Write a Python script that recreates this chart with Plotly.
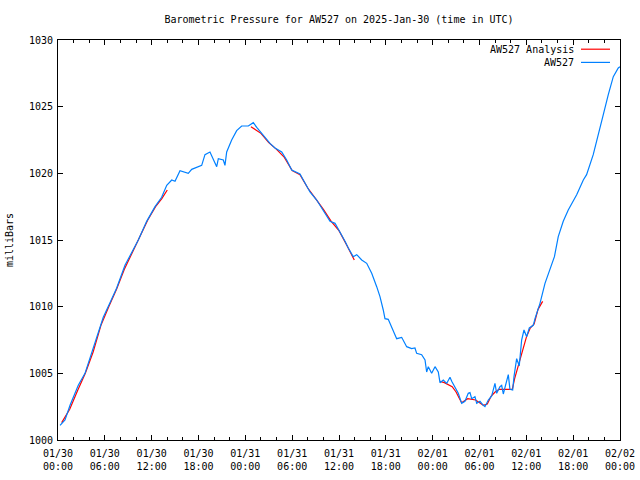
import pandas as pd
import plotly.graph_objects as go

START = pd.Timestamp("2025-01-30 00:00")

# AW527 observed pressure: hours since 2025-01-30 00:00 UTC, millibars
obs_hours = [0.26, 0.9, 1.54, 2.6, 3.46, 4.32, 4.96, 5.8, 6.66, 7.52, 8.58, 9.44, 10.29, 11.36,
             12.43, 13.28, 13.93, 14.57, 14.99, 15.63, 16.69, 17.13, 18.41, 18.83, 19.47, 20.33,
             20.54, 21.18, 21.39, 21.61, 22.25, 22.89, 23.53, 24.38, 25.02, 25.46, 26.1, 26.74,
             27.16, 27.8, 28.66, 29.3, 29.94, 31.0, 31.64, 32.28, 33.14, 33.99, 34.85, 35.49,
             36.13, 36.77, 37.19, 37.83, 38.27, 38.91, 39.55, 40.19, 40.83, 41.25, 41.67, 41.89,
             42.31, 42.95, 43.39, 44.03, 44.67, 45.31, 45.73, 45.95, 46.59, 47.02, 47.23, 47.44,
             47.87, 48.3, 48.72, 48.94, 49.36, 49.8, 50.22, 50.44, 50.86, 51.28, 51.72, 52.14,
             52.56, 52.78, 53.0, 53.42, 53.64, 54.06, 54.49, 54.7, 55.13, 55.56, 55.98, 56.2,
             56.62, 56.84, 57.05, 57.26, 57.69, 57.9, 58.25, 58.42, 58.76, 59.09, 59.4, 59.7,
             60.04, 60.38, 60.89, 61.11, 61.75, 62.39, 63.03, 63.6, 64.09, 64.73, 65.37, 66.45,
             67.3, 67.72, 68.57, 69.22, 69.86, 70.5, 71.14, 71.78, 72.0]
obs_mb = [1001.1, 1001.5, 1002.6, 1004.1, 1005.0, 1006.5, 1007.7, 1009.2, 1010.3, 1011.4, 1013.1,
          1014.1, 1015.0, 1016.4, 1017.5, 1018.2, 1019.1, 1019.5, 1019.4, 1020.2, 1020.0, 1020.3,
          1020.6, 1021.4, 1021.6, 1020.5, 1021.1, 1021.0, 1020.6, 1021.6, 1022.5, 1023.2, 1023.55,
          1023.55, 1023.8, 1023.45, 1023.0, 1022.5, 1022.25, 1021.9, 1021.6, 1021.0, 1020.25,
          1019.95, 1019.25, 1018.6, 1018.0, 1017.25, 1016.4, 1016.25, 1015.6, 1014.9, 1014.4,
          1013.75, 1013.9, 1013.5, 1013.25, 1012.5, 1011.5, 1010.75, 1009.75, 1009.1, 1009.05,
          1008.25, 1007.6, 1007.7, 1007.0, 1006.85, 1006.9, 1006.5, 1006.4, 1006.0, 1005.1,
          1005.5, 1005.0, 1005.5, 1005.1, 1004.3, 1004.5, 1004.25, 1004.7, 1004.4, 1003.9,
          1003.5, 1002.75, 1002.9, 1003.5, 1003.55, 1003.1, 1003.25, 1002.75, 1002.9, 1002.6,
          1002.5, 1003.0, 1003.3, 1004.25, 1003.5, 1004.0, 1004.1, 1003.45, 1003.9, 1004.9,
          1003.8, 1003.75, 1004.75, 1006.1, 1005.55, 1007.5, 1008.25, 1007.75, 1008.4, 1008.6,
          1009.1, 1010.25, 1011.75, 1012.9, 1013.75, 1015.25, 1016.4, 1017.25, 1018.4, 1019.5,
          1019.9, 1021.4, 1023.0, 1024.4, 1025.9, 1027.25, 1027.9, 1028.0]

# AW527 Analysis (three segments, gaps between)
ana_hours = [0.47, 1.5, 2.5, 3.5, 4.5, 5.5, 6.5, 7.5, 8.5, 9.5, 10.5, 11.5, 12.5, 13.3, 14.0,
             None,
             24.72, 26.0, 27.0, 28.0, 29.0, 30.0, 31.0, 32.0, 33.0, 34.0, 35.0, 36.0, 37.0, 37.96,
             None,
             48.94, 49.5, 50.5, 51.0, 51.7, 52.5, 53.5, 54.5, 55.0, 55.5, 56.0, 56.5, 57.5, 58.2,
             58.5, 59.0, 59.5, 60.0, 60.5, 61.0, 61.5, 62.09]
ana_mb = [1001.3, 1002.3, 1003.7, 1005.0, 1006.6, 1008.6, 1010.0, 1011.3, 1012.8, 1014.0, 1015.2,
          1016.5, 1017.5, 1018.1, 1018.75,
          None,
          1023.5, 1023.0, 1022.3, 1021.8, 1021.2, 1020.2, 1019.9, 1018.9, 1018.1, 1017.3, 1016.4,
          1015.7, 1014.6, 1013.5,
          None,
          1004.4, 1004.3, 1004.0, 1003.6, 1002.8, 1003.1, 1003.0, 1002.6, 1002.7, 1003.3, 1003.6,
          1003.8, 1003.8, 1003.8, 1004.6, 1005.6, 1006.8, 1007.7, 1008.4, 1008.7, 1009.8, 1010.4]

tick_hours = [0, 6, 12, 18, 24, 30, 36, 42, 48, 54, 60, 66, 72]
tick_labels = ["01/30<br>00:00", "01/30<br>06:00", "01/30<br>12:00", "01/30<br>18:00",
               "01/31<br>00:00", "01/31<br>06:00", "01/31<br>12:00", "01/31<br>18:00",
               "02/01<br>00:00", "02/01<br>06:00", "02/01<br>12:00", "02/01<br>18:00",
               "02/02<br>00:00"]
y_ticks = [1000, 1005, 1010, 1015, 1020, 1025, 1030]


def to_time(hours):
    return [None if h is None else START + pd.Timedelta(hours=h) for h in hours]


FONT = "DejaVu Sans Mono"
RED = "#ff0000"
BLUE = "#0080ff"

fig = go.Figure()
fig.add_trace(go.Scatter(x=to_time(ana_hours), y=ana_mb, mode="lines", name="AW527 Analysis",
                         line=dict(color=RED, width=1.2), connectgaps=False))
fig.add_trace(go.Scatter(x=to_time(obs_hours), y=obs_mb, mode="lines", name="AW527",
                         line=dict(color=BLUE, width=1.2)))

# gnuplot-style legend: text to the left of the sample line
legend_items = [("AW527 Analysis", RED, 0.977), ("AW527", BLUE, 0.944)]
for label, color, yy in legend_items:
    fig.add_annotation(x=0.922, y=yy, xref="paper", yref="paper", text=label, showarrow=False,
                       xanchor="right", yanchor="middle", font=dict(family=FONT, size=10, color="black"))
    fig.add_shape(type="line", xref="paper", yref="paper", x0=0.9306, x1=0.9822, y0=yy, y1=yy,
                  line=dict(color=color, width=1.2))

fig.update_layout(
    width=640, height=480,
    margin=dict(l=58, r=20, t=40, b=40),
    paper_bgcolor="white", plot_bgcolor="white",
    showlegend=False,
    font=dict(family=FONT, size=10, color="black"),
    title=dict(text="Barometric Pressure for AW527 on 2025-Jan-30 (time in UTC)",
               x=0.5, xref="paper", xanchor="center", y=0.96, yanchor="middle",
               font=dict(family=FONT, size=10, color="black"), automargin=False),
    xaxis=dict(
        type="date",
        range=[START, START + pd.Timedelta(hours=72)],
        tickmode="array",
        tickvals=to_time(tick_hours),
        ticktext=tick_labels,
        ticks="inside", ticklen=5, tickcolor="black", tickwidth=1,
        minor=dict(dtick=2 * 3600000, tick0=START, ticks="inside", ticklen=3,
                   tickcolor="black", showgrid=False),
        showline=True, linecolor="black", linewidth=1, mirror="ticks",
        showgrid=False, zeroline=False,
        tickangle=0, automargin=False, ticklabelstandoff=4,
    ),
    yaxis=dict(
        range=[1000, 1030],
        tickmode="array", tickvals=y_ticks,
        ticks="inside", ticklen=5, tickcolor="black", tickwidth=1,
        showline=True, linecolor="black", linewidth=1, mirror="ticks",
        showgrid=False, zeroline=False, automargin=False,
        title=dict(text="milliBars", standoff=13, font=dict(family=FONT, size=10)),
        ticklabelstandoff=2,
    ),
)

fig.write_html("out.html", config={"displayModeBar": False},
               post_script="document.body.style.margin='0';")
